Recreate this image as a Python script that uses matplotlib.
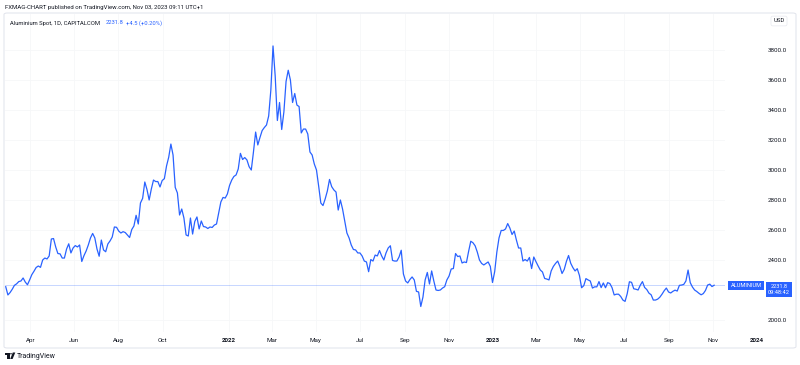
import matplotlib
matplotlib.use('Agg')
import matplotlib.pyplot as plt
import matplotlib.transforms as mtransforms
from matplotlib.patches import FancyBboxPatch, Polygon, Circle
import pandas as pd

plt.rcParams['font.family'] = ['Roboto', 'DejaVu Sans']

# daily close, sampled every ~3 days (USD)
prices = [
    2222, 2167, 2183, 2205, 2231, 2241, 2256, 2260, 2280, 2253,
    2235, 2267, 2302, 2325, 2350, 2360, 2351, 2400, 2413, 2407,
    2427, 2540, 2543, 2487, 2443, 2441, 2413, 2413, 2473, 2508,
    2447, 2480, 2496, 2487, 2500, 2390, 2429, 2460, 2500, 2547,
    2577, 2547, 2473, 2425, 2533, 2467, 2455, 2507, 2527, 2553,
    2620, 2618, 2593, 2580, 2589, 2583, 2567, 2550, 2603, 2627,
    2698, 2640, 2780, 2811, 2920, 2870, 2800, 2873, 2933, 2923,
    2923, 2887, 2930, 2942, 3027, 3085, 3173, 3100, 2884, 2847,
    2700, 2740, 2680, 2567, 2560, 2680, 2573, 2657, 2687, 2607,
    2660, 2623, 2620, 2610, 2620, 2617, 2633, 2640, 2713, 2787,
    2817, 2813, 2840, 2897, 2933, 2957, 2967, 3007, 3111, 3070,
    3083, 3067, 3022, 3000, 3120, 3253, 3167, 3217, 3263, 3283,
    3300, 3360, 3533, 3827, 3627, 3330, 3450, 3270, 3387, 3590,
    3665, 3600, 3450, 3510, 3433, 3423, 3247, 3273, 3273, 3240,
    3120, 3100, 3040, 3000, 2893, 2780, 2763, 2807, 2860, 2937,
    2889, 2867, 2853, 2733, 2800, 2740, 2660, 2580, 2547, 2500,
    2470, 2467, 2447, 2447, 2427, 2393, 2387, 2322, 2403, 2393,
    2433, 2427, 2463, 2427, 2400, 2447, 2480, 2495, 2397, 2393,
    2393, 2420, 2465, 2307, 2260, 2247, 2270, 2287, 2267, 2191,
    2187, 2090, 2153, 2267, 2317, 2240, 2327, 2260, 2200, 2197,
    2200, 2213, 2222, 2267, 2293, 2340, 2343, 2443, 2423, 2427,
    2380, 2387, 2383, 2457, 2525, 2515, 2495, 2453, 2400, 2377,
    2367, 2377, 2387, 2357, 2250, 2322, 2453, 2547, 2597, 2597,
    2607, 2643, 2613, 2570, 2593, 2533, 2480, 2480, 2393, 2403,
    2393, 2417, 2343, 2420, 2389, 2360, 2333, 2320, 2277, 2273,
    2267, 2327, 2357, 2377, 2393, 2357, 2310, 2337, 2390, 2430,
    2378, 2349, 2327, 2342, 2297, 2215, 2229, 2276, 2267, 2260,
    2213, 2221, 2221, 2256, 2216, 2247, 2215, 2249, 2243, 2216,
    2167, 2172, 2172, 2157, 2133, 2124, 2176, 2255, 2251, 2208,
    2205, 2200, 2232, 2256, 2217, 2203, 2179, 2168, 2133, 2133,
    2139, 2152, 2172, 2195, 2213, 2187, 2180, 2191, 2199, 2193,
    2231, 2233, 2237, 2260, 2333, 2249, 2220, 2200, 2190, 2178,
    2168, 2176, 2197, 2233, 2239, 2223, 2231.8,
]
start_date = '2021-02-26'
end_date = '2023-11-03'
dates = pd.date_range(start_date, end_date, periods=len(prices))

last_price = 2231.8
change_text = '+4.5 (+0.20%)'
last_time = '09:48:42'
symbol = 'ALUMINIUM'

y_ticks = [2000, 2400, 2600, 2800, 3000, 3200, 3400, 3600, 3800]
tick_dates = ['2021-04-01', '2021-06-01', '2021-08-01', '2021-10-01', '2022-01-01',
              '2022-03-01', '2022-05-01', '2022-07-01', '2022-09-01', '2022-11-01',
              '2023-01-01', '2023-03-01', '2023-05-01', '2023-07-01', '2023-09-01',
              '2023-11-01', '2024-01-01']
tick_labels = ['Apr', 'Jun', 'Aug', 'Oct', '2022', 'Mar', 'May', 'Jul', 'Sep', 'Nov',
               '2023', 'Mar', 'May', 'Jul', 'Sep', 'Nov', '2024']

BLUE = '#2962ff'
DARK = '#131722'
W, H = 800, 365

def fx(x):
    return x / W

def fy(y):
    return 1 - y / H

fig = plt.figure(figsize=(8, 3.65), dpi=100)
ax = fig.add_axes([fx(5), fy(332), (725 - 5) / W, (332 - 14) / H])

x_min = pd.Timestamp('2021-02-25')
x_max = pd.Timestamp('2023-11-18')

# very faint grid
for d in tick_dates:
    if x_min <= pd.Timestamp(d) <= x_max:
        ax.axvline(pd.Timestamp(d), color='#f6f7f9', lw=0.6, zorder=0)
for v in y_ticks:
    ax.axhline(v, color='#f6f7f9', lw=0.6, zorder=0)

ax.axhline(last_price, color=BLUE, lw=0.6, alpha=0.3, zorder=1)
ax.plot(dates, prices, color=BLUE, lw=0.9, zorder=2)

ax.set_xlim(x_min, x_max)
ax.set_ylim(1920, 4040)
for s in ax.spines.values():
    s.set_visible(False)

ax.yaxis.tick_right()
ax.set_yticks(y_ticks)
ax.set_yticklabels([f'{v:.1f}' for v in y_ticks])
ax.tick_params(axis='y', length=0, pad=31, labelsize=4.5, labelcolor=DARK)
ax.set_xticks([])

for d, lab in zip(tick_dates, tick_labels):
    is_year = lab.isdigit()
    ax.text(pd.Timestamp(d), -0.026, lab, transform=ax.get_xaxis_transform(),
            ha='center', va='center', fontsize=4.5, color=DARK,
            fontweight='bold' if is_year else 'normal', clip_on=False)

# price tags on the right scale
trans = mtransforms.blended_transform_factory(fig.transFigure, ax.transData)
ax.text(fx(746), last_price, symbol, transform=trans, ha='center', va='center',
        color='white', fontsize=4.1, clip_on=False,
        bbox=dict(boxstyle='square,pad=0.35', fc=BLUE, ec='none'))
tag2 = mtransforms.offset_copy(trans, fig=fig, y=-4, units='dots')
ax.text(fx(779), last_price, f'{last_price:.1f}\n{last_time}', transform=tag2,
        ha='center', va='center', color='white', fontsize=4.1, linespacing=1.3,
        clip_on=False, bbox=dict(boxstyle='square,pad=0.3', fc=BLUE, ec='none'))

# header
fig.text(fx(5), fy(7), 'FXMAG-CHART published on TradingView.com, Nov 03, 2023 09:11 UTC+1',
         fontsize=4.3, color=DARK, va='center', ha='left')
fig.text(fx(10), fy(23), 'Aluminium Spot, 1D, CAPITALCOM', fontsize=4.2, color=DARK,
         va='center', ha='left')
fig.text(fx(106), fy(23), f'{last_price:.1f}', fontsize=4.2, color=BLUE, va='center', ha='left')
fig.text(fx(126), fy(23), change_text, fontsize=4.2, color=BLUE, va='center', ha='left')
fig.text(fx(779), fy(21), 'USD', fontsize=4.3, color=DARK, va='center', ha='center',
         bbox=dict(boxstyle='round,pad=0.4,rounding_size=0.3', fc='white', ec='#e6e8ee', lw=0.5))

# frame around chart pane
fig.patches.append(FancyBboxPatch((fx(4), fy(348)), (796 - 4) / W, (348 - 13) / H,
                                  boxstyle='round,pad=0,rounding_size=0.004',
                                  transform=fig.transFigure, fc='none', ec='#e0e3eb', lw=0.7))

# footer logo + name
logo_left = Polygon([(fx(5), fy(352.5)), (fx(9.5), fy(352.5)), (fx(9.5), fy(359)),
                     (fx(7.3), fy(359)), (fx(7.3), fy(354.7)), (fx(5), fy(354.7))],
                    closed=True, transform=fig.transFigure, fc=DARK, ec='none')
logo_dot = Circle((fx(11), fy(353.8)), 1.2 / W, transform=fig.transFigure, fc=DARK, ec='none')
logo_right = Polygon([(fx(12.8), fy(352.5)), (fx(15.3), fy(352.5)), (fx(12.6), fy(359)),
                      (fx(10.2), fy(359))], closed=True, transform=fig.transFigure,
                     fc=DARK, ec='none')
fig.patches.extend([logo_left, logo_dot, logo_right])
fig.text(fx(17), fy(356), 'TradingView', fontsize=5, color=DARK, va='center', ha='left')

fig.savefig('out.png', dpi=100, facecolor='white')
